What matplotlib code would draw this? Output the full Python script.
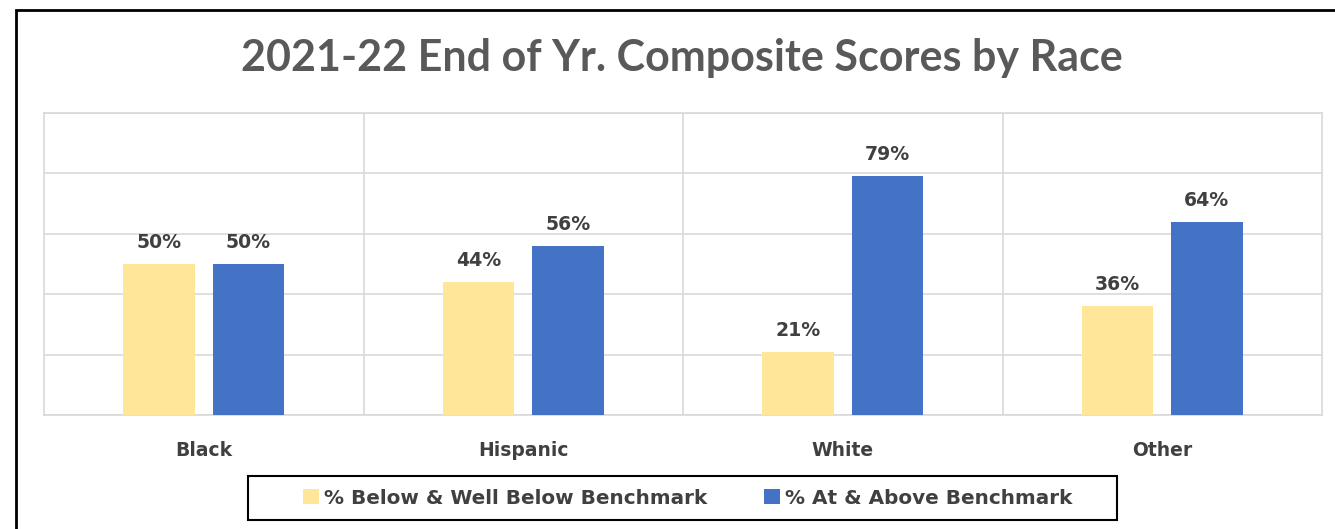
import numpy as np
import matplotlib.pyplot as plt
from matplotlib.patches import Rectangle

plt.rcParams["font.family"] = ["DejaVu Sans"]

races = ["Black", "Hispanic", "White", "Other"]
below = [50, 44, 21, 36]
above = [50, 56, 79, 64]
series_names = ["% Below & Well Below Benchmark", "% At & Above Benchmark"]

yellow = "#FFE699"
blue = "#4472C4"
text_col = "#404040"
grid_col = "#D9D9D9"

fig = plt.figure(figsize=(13.35, 5.29), dpi=100)
ax = fig.add_axes([44 / 1335, 1 - 415 / 529, (1322 - 44) / 1335, (415 - 113) / 529])

x = np.arange(len(races))
w = 0.225
off = 0.14
b1 = ax.bar(x - off, below, w, color=yellow, label=series_names[0], zorder=3)
b2 = ax.bar(x + off, above, w, color=blue, label=series_names[1], zorder=3)

for bars in (b1, b2):
    for r in bars:
        ax.text(r.get_x() + r.get_width() / 2, r.get_height() + 4, f"{r.get_height():.0f}%",
                ha="center", va="bottom", fontsize=13.6, fontweight="bold", color=text_col)

ax.set_xlim(-0.5, 3.5)
ax.set_ylim(0, 100)
ax.set_yticks(np.arange(0, 101, 20))
ax.set_yticklabels([])
ax.set_xticks(x)
ax.set_xticklabels(races, fontsize=13.5, fontweight="bold", color=text_col)
ax.set_xticks(np.arange(0.5, 3.5, 1), minor=True)
ax.tick_params(axis="both", which="both", length=0)
ax.tick_params(axis="x", pad=19)
ax.grid(axis="y", color=grid_col, lw=1.2, zorder=0)
ax.grid(axis="x", which="minor", color=grid_col, lw=1.2, zorder=0)
for s in ax.spines.values():
    s.set_color(grid_col)
    s.set_linewidth(1.2)

fig.text(682 / 1335, 1 - 58 / 529, "2021-22 End of Yr. Composite Scores by Race", ha="center", va="center",
         fontsize=31, fontweight="bold", color="#595959", family="Lato")

leg = fig.legend(loc="center", bbox_to_anchor=(688 / 1335, 1 - 498 / 529), ncol=2,
                 frameon=False, handlelength=0.8, handleheight=0.75, handletextpad=0.25,
                 columnspacing=2.85, prop={"weight": "bold", "size": 14.4})
for t in leg.get_texts():
    t.set_color(text_col)

# legend box
fig.patches.append(Rectangle((248 / 1335, 1 - 520 / 529), (1117 - 248) / 1335, 44 / 529,
                             transform=fig.transFigure, fill=False, edgecolor="black", lw=1.5))

# outer chart border (cropped on right and bottom)
fig.patches.append(Rectangle((16 / 1335, -0.1), 1.2, 1 - 9.5 / 529 + 0.1, transform=fig.transFigure,
                             fill=False, edgecolor="black", lw=2))

fig.savefig("out.png", dpi=100)
